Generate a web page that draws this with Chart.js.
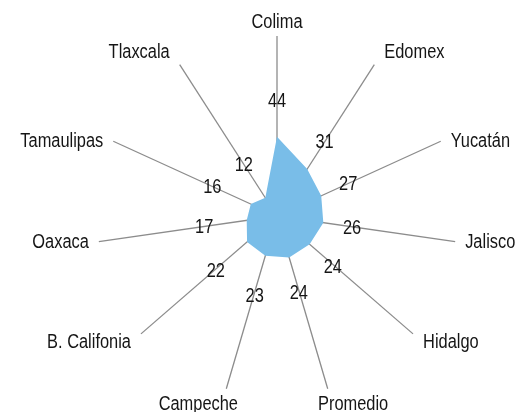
<!DOCTYPE html>
<html>
<head>
<meta charset="utf-8">
<script src="https://cdn.jsdelivr.net/npm/chart.js@4.4.1/dist/chart.umd.min.js"></script>
<style>
  body { margin: 0; background: #fff; }
  #wrap { width: 515px; height: 412px; }
</style>
</head>
<body>
<div id="wrap"><canvas id="radar"></canvas></div>
<script>
// Data
const estados = ["Colima", "Edomex", "Yucatán", "Jalisco", "Hidalgo", "Promedio", "Campeche", "B. Califonia", "Oaxaca", "Tamaulipas", "Tlaxcala"];
const valores = [44, 31, 27, 26, 24, 24, 23, 22, 17, 16, 12];
const escalaMax = 100;

const FONT = "20px 'Liberation Sans', Arial, sans-serif";
const NARROW = 0.82; // squeeze Liberation Sans to look like Arial Narrow
const TEXT_COLOR = "#151515";

// draw text horizontally condensed, centred on (x, y)
function narrowText(ctx, txt, x, y) {
    ctx.save();
    ctx.translate(x, y);
    ctx.scale(NARROW, 1);
    ctx.fillText(txt, 0, 0);
    ctx.restore();
}

function clamp(v, a, b) { return Math.max(a, Math.min(b, v)); }

// Draws the value numbers and the category names around the web
const labelsPlugin = {
    id: "radarLabels",
    afterDatasetsDraw(chart) {
        const ctx = chart.ctx;
        const scale = chart.scales.r;
        const R = scale.drawingArea;
        ctx.save();
        ctx.fillStyle = TEXT_COLOR;
        ctx.font = FONT;
        ctx.textAlign = "center";
        ctx.textBaseline = "middle";

        // value labels, pushed outwards along each spoke
        valores.forEach((v, i) => {
            const p = scale.getPointPositionForValue(i, v);
            const dx = Math.cos(p.angle), dy = Math.sin(p.angle);
            const off = 36 - 7 * dx;
            narrowText(ctx, String(v), p.x + dx * off, p.y + dy * off + 1 + 3 * Math.max(dy, 0));
        });

        // category labels beside the end of each spoke
        estados.forEach((name, i) => {
            const end = scale.getPointPosition(i, R);
            const dx = Math.cos(end.angle), dy = Math.sin(end.angle);
            const w = ctx.measureText(name).width * NARROW;
            const h = 16;
            const fx = clamp(dx * 2, -1, 1);
            const fy = Math.sign(dy) * clamp((Math.abs(dy) - 0.4) / 0.5, 0, 1);
            const cx = end.x + fx * (w / 2 + 10);
            const cy = end.y + fy * (h / 2 + 7);
            narrowText(ctx, name, cx, cy + 1);
        });
        ctx.restore();
    }
};

new Chart(document.getElementById("radar"), {
    type: "radar",
    data: {
        labels: estados,
        datasets: [{
            data: valores,
            backgroundColor: "#79bde8",
            borderWidth: 0,
            pointRadius: 0,
            fill: true
        }]
    },
    options: {
        responsive: true,
        maintainAspectRatio: false,
        animation: false,
        layout: { padding: { top: 36, bottom: 16, left: 97, right: 58 } },
        plugins: { legend: { display: false }, tooltip: { enabled: false } },
        scales: {
            r: {
                min: 0,
                max: escalaMax,
                ticks: { display: false },
                grid: { display: false },
                pointLabels: { display: false },
                angleLines: { color: "#8c8c8c", lineWidth: 1.3 }
            }
        }
    },
    plugins: [labelsPlugin]
});
</script>
</body>
</html>
